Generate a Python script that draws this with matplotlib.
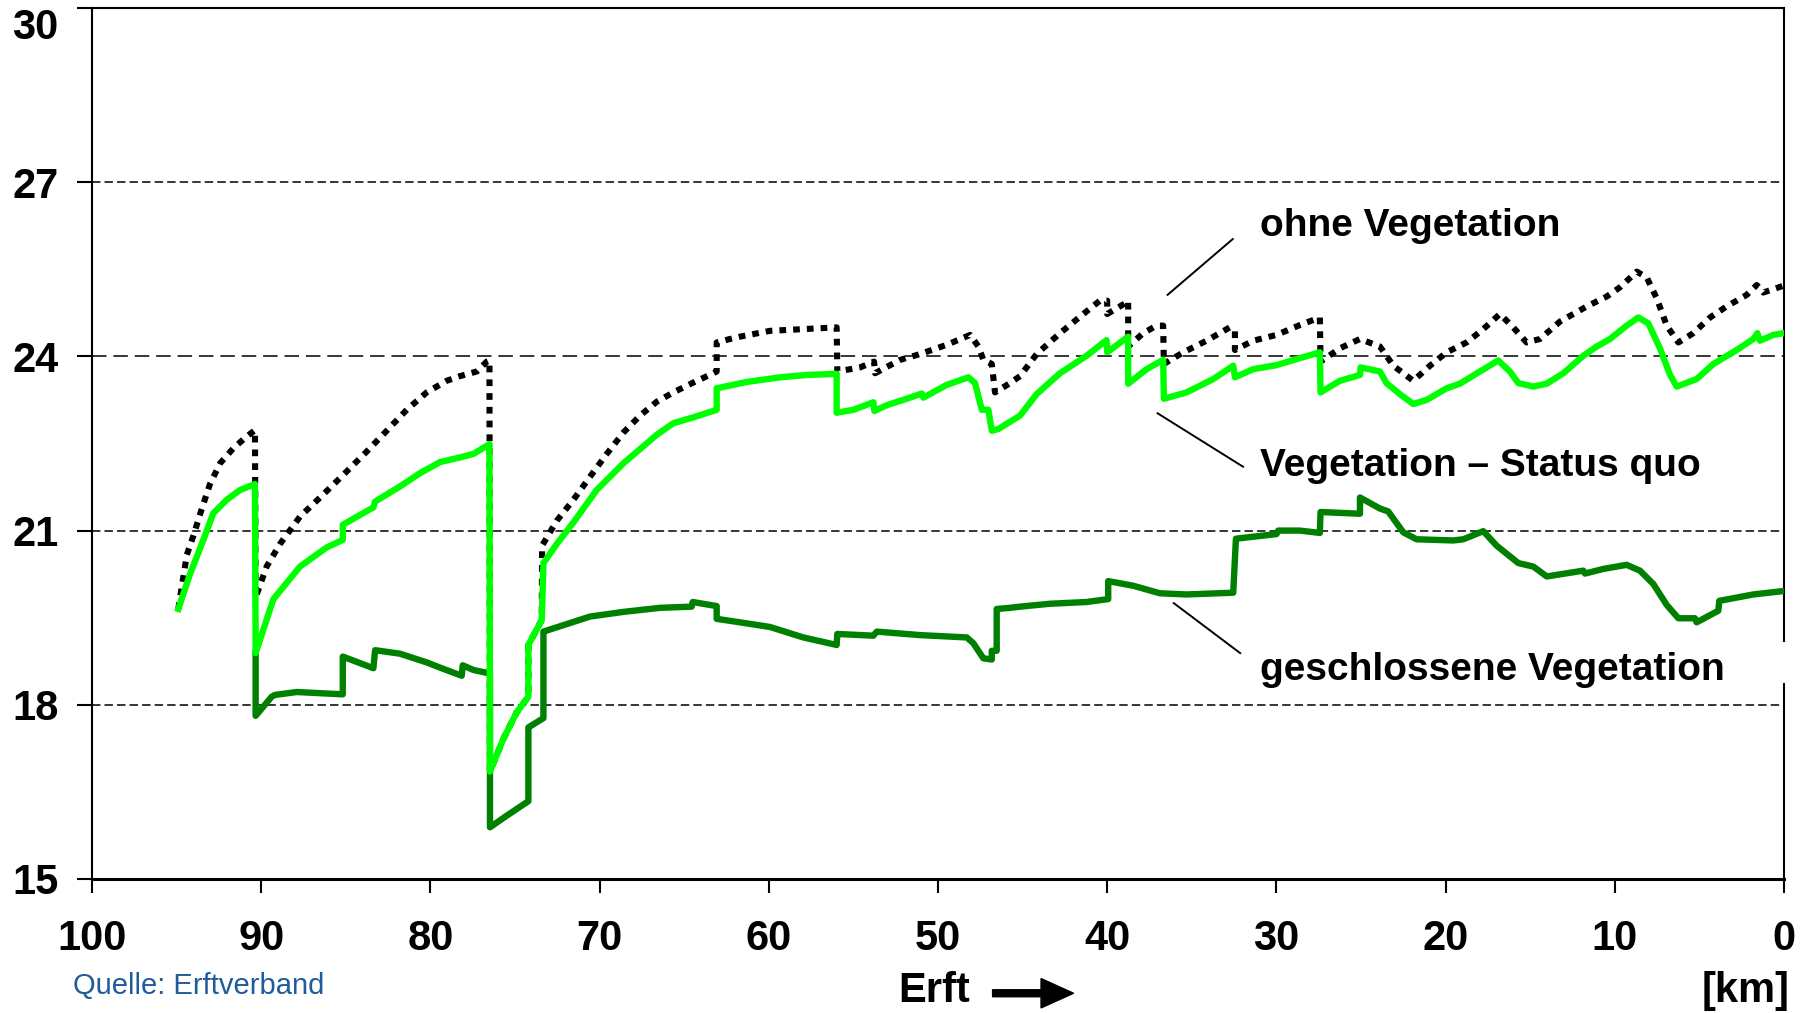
import matplotlib.pyplot as plt
import matplotlib.patches as mpatches

plt.rcParams['font.family'] = ['Liberation Sans', 'DejaVu Sans']

# Flusskilometer (km) und Wassertemperatur je Szenario
km_ohne = [94.90, 94.40, 94.01, 93.52, 93.03, 92.43, 91.64, 90.86, 90.37, 90.33,
           89.68, 88.89, 87.71, 86.52, 85.15, 83.77, 82.58, 81.40, 80.22, 79.04,
           78.25, 77.26, 76.67, 76.51, 76.48, 75.69, 74.90, 74.21, 74.21, 73.42,
           73.40, 72.53, 71.55, 70.56, 69.58, 68.59, 67.61, 66.62, 65.64, 64.46,
           63.28, 63.08, 63.08, 62.29, 61.70, 59.93, 57.96, 55.99, 55.95, 54.61,
           53.78, 53.72, 52.24, 51.06, 49.48, 48.10, 47.61, 47.32, 46.82, 46.63,
           45.74, 45.15, 44.17, 42.79, 41.41, 40.43, 40.00, 40.00, 38.85, 38.76,
           38.76, 37.87, 37.08, 36.69, 36.65, 35.50, 34.13, 32.75, 32.45, 32.45,
           31.37, 29.99, 28.61, 27.43, 27.39, 26.24, 25.06, 23.88, 23.09, 21.91,
           20.92, 19.94, 18.76, 17.77, 16.79, 16.00, 15.21, 14.42, 13.24, 11.66,
           10.48, 9.69, 8.70, 8.11, 7.52, 6.93, 6.24, 5.36, 4.37, 3.39,
           2.20, 1.61, 1.22, 0.0]
t_ohne = [19.65, 20.58, 20.91, 21.37, 21.80, 22.16, 22.42, 22.62, 22.73, 19.85,
          20.38, 20.77, 21.24, 21.57, 21.96, 22.36, 22.72, 23.08, 23.38, 23.58,
          23.66, 23.74, 23.91, 23.93, 16.85, 17.41, 17.87, 18.14, 19.03, 19.46,
          20.74, 21.17, 21.53, 21.93, 22.32, 22.69, 22.98, 23.22, 23.38, 23.55,
          23.71, 23.74, 24.24, 24.30, 24.34, 24.44, 24.47, 24.50, 23.74, 23.81,
          23.91, 23.71, 23.94, 24.04, 24.20, 24.37, 24.17, 23.94, 23.87, 23.38,
          23.54, 23.66, 24.04, 24.40, 24.73, 24.96, 24.96, 24.73, 24.93, 24.96,
          24.17, 24.40, 24.53, 24.53, 23.87, 24.07, 24.27, 24.50, 24.44, 24.11,
          24.27, 24.37, 24.54, 24.67, 23.91, 24.14, 24.30, 24.17, 23.84, 23.58,
          23.84, 24.07, 24.24, 24.47, 24.73, 24.50, 24.24, 24.30, 24.60, 24.86,
          25.03, 25.19, 25.46, 25.36, 25.00, 24.53, 24.24, 24.40, 24.67, 24.86,
          25.06, 25.23, 25.10, 25.22]

km_status = [94.90, 94.21, 93.42, 92.83, 92.04, 91.25, 90.37, 90.33, 89.28, 87.71,
             86.13, 85.18, 85.18, 83.37, 83.27, 81.80, 80.61, 79.43, 78.25, 77.46,
             76.67, 76.51, 76.48, 75.69, 74.90, 74.21, 74.21, 73.42, 73.32, 72.53,
             71.55, 70.17, 68.59, 66.62, 65.64, 64.46, 63.08, 63.08, 61.30, 59.33,
             57.76, 55.99, 55.99, 55.00, 53.82, 53.76, 53.03, 51.85, 50.96, 50.86,
             49.48, 48.20, 47.81, 47.41, 47.02, 46.82, 46.43, 45.15, 44.17, 42.79,
             41.22, 40.04, 40.00, 38.76, 38.76, 37.67, 36.69, 36.65, 35.31, 33.73,
             32.55, 32.45, 31.37, 29.99, 28.61, 27.43, 27.39, 26.24, 25.06, 25.02,
             23.88, 23.49, 22.70, 21.91, 21.12, 19.94, 19.15, 17.97, 16.89, 16.20,
             15.70, 14.81, 14.02, 13.04, 11.86, 11.07, 10.28, 9.30, 8.61, 8.02,
             7.33, 6.73, 6.34, 5.16, 4.17, 2.79, 1.81, 1.57, 1.42, 0.63, 0.0]
t_status = [19.65, 20.25, 20.84, 21.30, 21.53, 21.70, 21.80, 18.89, 19.82, 20.38,
            20.71, 20.84, 21.10, 21.40, 21.50, 21.76, 21.99, 22.18, 22.26, 22.32,
            22.46, 22.49, 16.85, 17.41, 17.87, 18.14, 19.03, 19.46, 20.44, 20.77,
            21.14, 21.70, 22.16, 22.65, 22.85, 22.95, 23.08, 23.45, 23.56, 23.64,
            23.68, 23.70, 23.03, 23.08, 23.21, 23.06, 23.16, 23.27, 23.36, 23.29,
            23.51, 23.64, 23.54, 23.08, 23.08, 22.72, 22.75, 22.98, 23.35, 23.71,
            24.01, 24.28, 24.07, 24.34, 23.53, 23.78, 23.94, 23.27, 23.38, 23.61,
            23.84, 23.64, 23.78, 23.85, 23.97, 24.07, 23.38, 23.58, 23.68, 23.81,
            23.74, 23.54, 23.35, 23.18, 23.25, 23.45, 23.53, 23.74, 23.93, 23.74,
            23.54, 23.48, 23.53, 23.71, 24.01, 24.17, 24.30, 24.53, 24.67, 24.57,
            24.14, 23.68, 23.48, 23.61, 23.87, 24.11, 24.30, 24.40, 24.27, 24.37, 24.40]

km_geschl = [90.33, 90.33, 89.38, 89.18, 87.90, 85.18, 85.18, 83.37, 83.27, 81.80,
             80.22, 79.43, 78.15, 78.09, 77.46, 76.67, 76.48, 76.48, 75.49, 74.21,
             74.21, 73.32, 73.32, 71.94, 70.56, 68.59, 66.43, 64.56, 64.50, 63.08,
             63.08, 61.70, 59.93, 57.96, 55.99, 55.95, 53.82, 53.62, 51.06, 48.30,
             47.91, 47.32, 46.82, 46.82, 46.53, 46.53, 45.74, 45.16, 43.39, 41.22,
             39.94, 39.94, 38.46, 36.88, 35.31, 32.55, 32.39, 29.99, 29.89, 28.61,
             27.43, 27.39, 25.06, 25.06, 23.88, 23.39, 22.50, 21.71, 19.55, 18.96,
             17.77, 16.98, 15.70, 14.81, 14.02, 11.86, 11.76, 10.67, 9.30, 8.51,
             7.72, 6.93, 6.24, 5.26, 5.16, 3.88, 3.82, 1.81, 0.0]
t_geschl = [18.89, 17.81, 18.14, 18.17, 18.22, 18.18, 18.83, 18.63, 18.94, 18.88,
            18.73, 18.64, 18.50, 18.68, 18.60, 18.55, 18.54, 15.89, 16.09, 16.34,
            17.61, 17.77, 19.26, 19.39, 19.52, 19.60, 19.67, 19.69, 19.77, 19.70,
            19.48, 19.42, 19.34, 19.16, 19.03, 19.22, 19.19, 19.26, 19.20, 19.16,
            19.06, 18.80, 18.78, 18.93, 18.93, 19.65, 19.67, 19.69, 19.74, 19.77,
            19.82, 20.13, 20.05, 19.92, 19.90, 19.93, 20.86, 20.94, 21.00, 21.00,
            20.96, 21.32, 21.29, 21.57, 21.38, 21.33, 20.97, 20.85, 20.83, 20.85,
            20.99, 20.74, 20.44, 20.38, 20.21, 20.31, 20.26, 20.34, 20.41, 20.31,
            20.08, 19.72, 19.49, 19.49, 19.42, 19.62, 19.79, 19.90, 19.96]

y_ticks = [15, 18, 21, 24, 27, 30]
x_ticks = [100, 90, 80, 70, 60, 50, 40, 30, 20, 10, 0]

labels = ["ohne Vegetation", "Vegetation \u2013 Status quo", "geschlossene Vegetation"]

fig = plt.figure(figsize=(18.08, 10.13), dpi=100)
ax = fig.add_axes([0.0509, 0.1323, 0.9358, 0.8598])

# Hilfslinien
for y in [27, 21, 18]:
    ax.axhline(y, color='black', lw=1.1, ls=(0, (5.5, 2.7)), zorder=1)
ax.axhline(24, color='black', lw=1.1, ls=(0, (9.5, 4.5)), zorder=1)

ax.plot(km_ohne, t_ohne, color='black', lw=4.4, ls=(0, (1.1, 1.15)),
        dash_capstyle='butt', zorder=2)
ax.plot(km_geschl, t_geschl, color='#008000', lw=4.6, zorder=3,
        solid_joinstyle='round')
ax.plot(km_status, t_status, color='#00FF00', lw=4.6, zorder=4,
        solid_joinstyle='round')

ax.set_xlim(100, 0)
ax.set_ylim(15, 30)
ax.set_xticks(x_ticks)
ax.set_yticks(y_ticks)
ax.tick_params(axis='both', direction='out', width=1.5, labelsize=30)
ax.tick_params(axis='y', length=11, pad=13)
ax.tick_params(axis='x', length=10, pad=19)
for lab in ax.get_xticklabels() + ax.get_yticklabels():
    lab.set_fontweight('bold')
# oberste Beschriftung nach innen ruecken
ax.get_yticklabels()[-1].set_va('top')

for s in ['left', 'top']:
    ax.spines[s].set_linewidth(1.5)
ax.spines['bottom'].set_linewidth(2.2)
ax.spines['right'].set_linewidth(1.5)
ax.spines['right'].set_bounds(19.1, 30)
ax.plot([0, 0], [15, 18.35], color='black', lw=1.5, clip_on=False, zorder=5)

# Beschriftungen mit Hinweislinien
leaders = [([36.43, 32.58], [25.06, 26.02]),
           ([37.02, 31.97], [23.02, 22.10]),
           ([36.06, 32.14], [19.75, 18.89])]
text_y = [26.07, 21.94, 18.43]
for (lx, ly), ty, lab in zip(leaders, text_y, labels):
    ax.plot(lx, ly, color='black', lw=1.4, zorder=5)
    ax.text(30.97, ty, lab, fontsize=28, fontweight='bold', va='baseline',
            ha='left', zorder=6)

fig.text(0.0402, 0.0267, "Quelle: Erftverband", color='#1F5C99', fontsize=21,
         va='center', ha='left')
fig.text(0.497, 0.0215, "Erft", fontsize=30, fontweight='bold', va='center',
         ha='left')
fig.patches.append(mpatches.FancyArrow(0.549, 0.0195, 0.0448, 0.0, width=0.0069,
                                       head_width=0.029, head_length=0.018,
                                       length_includes_head=True, color='black',
                                       transform=fig.transFigure, figure=fig))
fig.text(0.990, 0.022, "[km]", fontsize=30, fontweight='bold', va='center',
         ha='right')

fig.savefig('out.png', dpi=100)
